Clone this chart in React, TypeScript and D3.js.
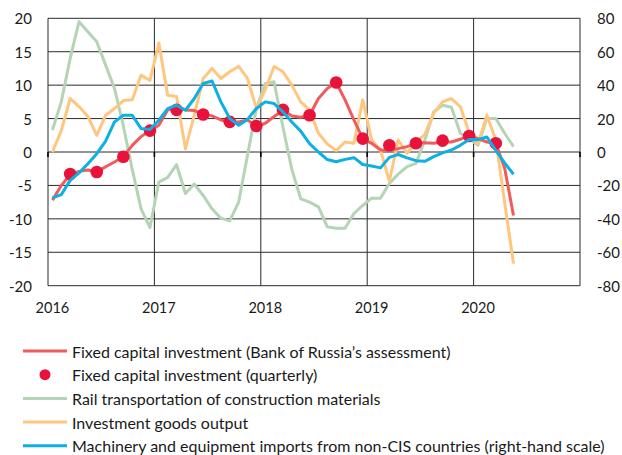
import React from "react";
import * as d3 from "d3";

// Monthly categories: Jan 2016 .. Dec 2020 (axis), data Jan 2016 .. May 2020
const axisMonths: Date[] = d3.timeMonths(new Date(2016, 0, 1), new Date(2021, 0, 1));
const dataMonths: Date[] = d3.timeMonths(new Date(2016, 0, 1), new Date(2020, 5, 1));
// quarter-end months: Mar 2016 .. Mar 2020
const quarterMonths: Date[] = d3.timeMonths(new Date(2016, 2, 1), new Date(2020, 3, 1), 3);

const yearTicks = [2016, 2017, 2018, 2019, 2020];
const leftTicks = [-20, -15, -10, -5, 0, 5, 10, 15, 20];
const rightTicks = [-80, -60, -40, -20, 0, 20, 40, 60, 80];

// Fixed capital investment (Bank of Russia's assessment), left scale
const fciMonthly = [
  -7.2, -5.0, -3.4, -2.9, -2.7, -3.0, -2.2, -1.5, -0.7, 1.0, 2.3, 3.2,
  4.0, 6.3, 6.8, 6.3, 6.2, 5.7, 5.4, 4.8, 4.5, 4.5, 4.8, 3.8,
  4.3, 5.3, 6.2, 5.4, 5.2, 5.5, 8.0, 9.5, 10.4, 7.8, 4.8, 2.0,
  1.3, 0.3, 0.3, 0.5, 0.8, 1.3, 1.4, 1.3, 1.5, 1.5, 1.9, 2.5,
  2.0, 1.5, 1.3, -2.4, -9.5,
];
// Fixed capital investment (quarterly), left scale
const fciQuarterly = [-3.3, -3.0, -0.7, 3.2, 6.3, 5.6, 4.5, 3.9, 6.3, 5.5, 10.4, 2.0, 1.0, 1.3, 1.7, 2.4, 1.3];
// Rail transportation of construction materials, left scale
const railTransport = [
  3.3, 7.5, 14.0, 19.5, 18.0, 16.5, 13.0, 9.5, 3.9, -2.6, -8.5, -11.3,
  -4.5, -3.8, -1.9, -6.2, -4.8, -6.5, -8.5, -9.9, -10.3, -7.5, -0.5, 6.5,
  10.2, 10.5, 3.7, -2.6, -7.0, -7.5, -8.2, -11.2, -11.4, -11.4, -9.2, -8.0,
  -6.9, -6.9, -4.7, -3.3, -2.2, -1.7, 1.8, 6.0, 7.0, 6.7, 2.8, 2.0,
  1.0, 5.0, 5.0, 2.8, 0.8,
];
// Investment goods output, left scale
const investGoods = [
  0.0, 3.2, 8.0, 6.8, 5.3, 2.5, 5.5, 6.5, 7.7, 7.8, 11.5, 10.7,
  16.3, 8.5, 8.3, 0.5, 5.5, 11.0, 12.5, 11.0, 12.0, 12.8, 11.0, 6.5,
  9.3, 12.8, 12.0, 10.0, 7.5, 6.3, 2.8, 1.2, 0.2, 1.5, 1.3, 7.8,
  1.8, 0.3, -4.4, 1.8, -0.2, 1.5, 2.6, 5.8, 7.5, 8.0, 6.8, 2.9,
  1.2, 5.5, 1.8, -7.5, -16.7,
];
// Machinery and equipment imports from non-CIS countries, right scale
const machineryImports = [
  -27.5, -25.5, -17.0, -12.5, -7.0, -1.0, 6.5, 18.0, 22.0, 22.0, 14.0, 13.5,
  19.0, 26.0, 28.0, 25.0, 32.0, 41.0, 42.5, 30.0, 20.0, 16.0, 19.5, 26.0,
  30.0, 29.0, 24.0, 18.0, 12.5, 5.0, 0.0, -4.5, -5.8, -4.4, -3.4, -7.5,
  -8.4, -9.5, -3.2, -1.5, -3.5, -5.2, -5.6, -2.8, -0.5, 1.2, 4.0, 7.5,
  7.4, 9.0, 1.0, -6.5, -13.3,
];

const legendLabels = [
  "Fixed capital investment (Bank of Russia\u2019s assessment)",
  "Fixed capital investment (quarterly)",
  "Rail transportation of construction materials",
  "Investment goods output",
  "Machinery and equipment imports from non-CIS countries (right-hand scale)",
];

const C_RED = "#f25b5c";
const C_DOT = "#e8123a";
const C_GREEN = "#b4d4b5";
const C_ORANGE = "#ffc67f";
const C_BLUE = "#0cb0e4";
const GRID = "#2a2a2a";
const FONT = "Lato, 'Open Sans', sans-serif";

export default function App() {
  const W = 622, H = 455;
  const left = 48, right = 580, top = 18.3, bottom = 285.7;

  const key = (d: Date) => d.getFullYear() * 12 + d.getMonth();
  const x = d3.scaleBand<number>().domain(axisMonths.map(key)).range([left, right]).paddingInner(0).paddingOuter(0);
  const xc = (d: Date) => (x(key(d)) as number) + x.bandwidth() / 2;
  const yL = d3.scaleLinear().domain([-20, 20]).range([bottom, top]);
  const yR = d3.scaleLinear().domain([-80, 80]).range([bottom, top]);

  const lineL = d3.line<number>().x((_, i) => xc(dataMonths[i])).y((v) => yL(v));
  const lineR = d3.line<number>().x((_, i) => xc(dataMonths[i])).y((v) => yR(v));

  const yearX = (yr: number) => x(yr * 12) as number;
  const boundaries = [2016, 2017, 2018, 2019, 2020, 2021].map((yr) => (yr === 2021 ? right : yearX(yr)));

  const legendY = (i: number) => 351 + i * 23.7;

  return (
    <svg width={W} height={H} style={{ position: "absolute", left: 0, top: 0, display: "block", background: "#fff" }}>
      {/* horizontal gridlines */}
      {leftTicks.map((t) => (
        <line key={"h" + t} x1={left} x2={right} y1={yL(t)} y2={yL(t)} stroke={GRID} strokeWidth={1} />
      ))}
      {/* vertical year gridlines */}
      {boundaries.map((bx, i) => (
        <line key={"v" + i} x1={bx} x2={bx} y1={top} y2={bottom} stroke={GRID} strokeWidth={1} />
      ))}
      {/* ticks below zero line */}
      {boundaries.map((bx, i) => (
        <line key={"t" + i} x1={bx} x2={bx} y1={yL(0)} y2={yL(0) + 5} stroke="#000" strokeWidth={1.6} />
      ))}

      {/* series */}
      <path d={lineL(railTransport) || ""} fill="none" stroke={C_GREEN} strokeWidth={3} strokeLinejoin="round" />
      <path d={lineL(investGoods) || ""} fill="none" stroke={C_ORANGE} strokeWidth={3} strokeLinejoin="round" />
      <path d={lineL(fciMonthly) || ""} fill="none" stroke={C_RED} strokeWidth={3} strokeLinejoin="round" />
      {fciQuarterly.map((v, i) => (
        <circle key={"d" + i} cx={xc(quarterMonths[i])} cy={yL(v)} r={6.3} fill={C_DOT} />
      ))}
      <path d={lineR(machineryImports) || ""} fill="none" stroke={C_BLUE} strokeWidth={3} strokeLinejoin="round" />

      {/* left axis labels */}
      {leftTicks.map((t) => (
        <text key={"l" + t} x={32} y={yL(t)} textAnchor="end" dominantBaseline="central" fontFamily={FONT} fontSize={15} fill="#1a1a1a">
          {t}
        </text>
      ))}
      {/* right axis labels */}
      {rightTicks.map((t) => (
        <text key={"r" + t} x={597} y={yR(t)} textAnchor="start" dominantBaseline="central" fontFamily={FONT} fontSize={15} fill="#1a1a1a">
          {t}
        </text>
      ))}
      {/* year labels */}
      {yearTicks.map((yr) => (
        <text key={"y" + yr} x={xc(new Date(yr, 0, 1))} y={307} textAnchor="middle" dominantBaseline="central" fontFamily={FONT} fontSize={14.5} fill="#1a1a1a">
          {yr}
        </text>
      ))}

      {/* legend */}
      {legendLabels.map((lab, i) => {
        const ly = legendY(i);
        let sym: React.ReactNode;
        if (i === 1) sym = <circle cx={45} cy={ly} r={5.5} fill={C_DOT} />;
        else {
          const col = i === 0 ? C_RED : i === 2 ? C_GREEN : i === 3 ? C_ORANGE : C_BLUE;
          sym = <line x1={23} x2={67} y1={ly} y2={ly} stroke={col} strokeWidth={3} />;
        }
        return (
          <g key={"lg" + i}>
            {sym}
            <text x={72} y={ly} dominantBaseline="central" fontFamily={FONT} fontSize={16} fill="#1a1a1a">
              {lab}
            </text>
          </g>
        );
      })}
    </svg>
  );
}
